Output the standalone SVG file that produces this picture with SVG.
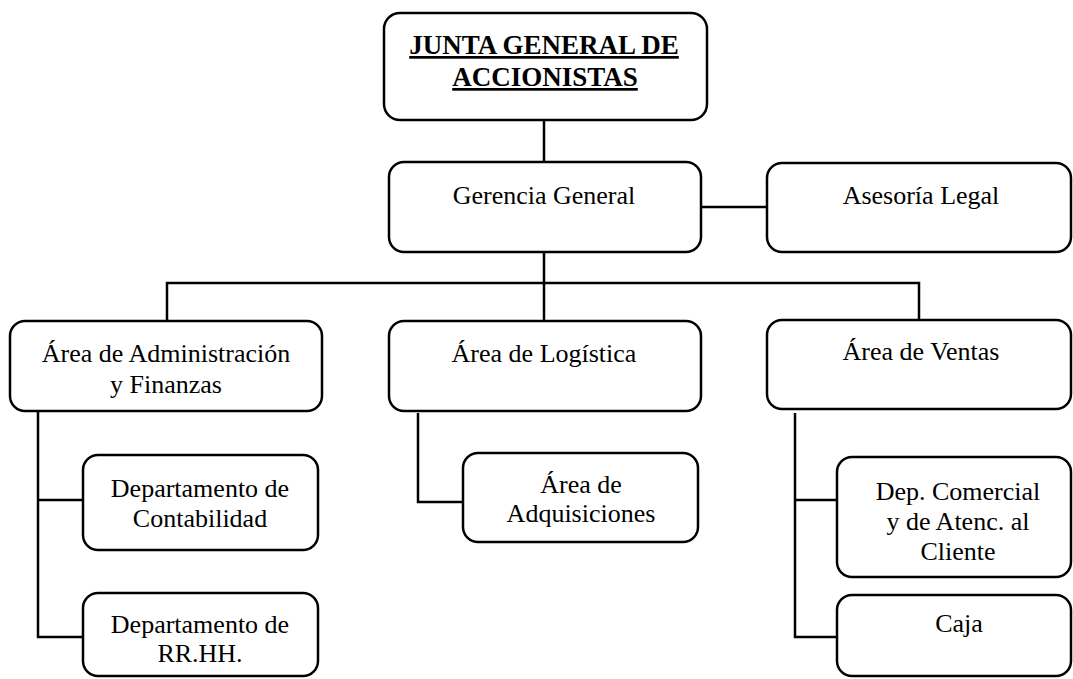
<svg xmlns="http://www.w3.org/2000/svg" width="1073" height="679" viewBox="0 0 1073 679">
<style>
.box{fill:#fff;stroke:#000;stroke-width:2.5}
.t{font-family:"Liberation Serif","Times New Roman",serif;font-size:26px;fill:#000;text-anchor:middle}
.b{font-weight:bold;text-decoration:underline;font-size:27px}
.c{fill:none;stroke:#000;stroke-width:2.5}
</style>
<rect width="1073" height="679" fill="#fff"/>
<g id="connectors">
<path class="c" d="M544 120V162"/>
<path class="c" d="M701 207H767"/>
<path class="c" d="M544 252V283"/>
<path class="c" d="M167 321V283H919V321"/>
<path class="c" d="M544 283V321"/>
<path class="c" d="M38 411V637H83"/>
<path class="c" d="M38 500H83"/>
<path class="c" d="M418 413V502H463"/>
<path class="c" d="M795 413V637H837"/>
<path class="c" d="M795 500H837"/>
</g>
<g id="junta">
<rect class="box" x="384" y="13" width="323" height="107" rx="16"/>
<text class="t b" x="544" y="54">JUNTA GENERAL DE</text>
<text class="t b" x="545" y="86">ACCIONISTAS</text>
</g>
<g id="gerencia">
<rect class="box" x="389" y="162" width="312" height="90" rx="15"/>
<text class="t" x="544" y="204">Gerencia General</text>
</g>
<g id="asesoria">
<rect class="box" x="767" y="163" width="304" height="89" rx="15"/>
<text class="t" x="921" y="204">Asesoría Legal</text>
</g>
<g id="admin">
<rect class="box" x="10" y="321" width="312" height="90" rx="15"/>
<text class="t" x="166" y="362">Área de Administración</text>
<text class="t" x="166" y="393">y Finanzas</text>
</g>
<g id="logistica">
<rect class="box" x="389" y="321" width="312" height="90" rx="15"/>
<text class="t" x="544" y="362">Área de Logística</text>
</g>
<g id="ventas">
<rect class="box" x="767" y="320" width="304" height="89" rx="15"/>
<text class="t" x="921" y="360">Área de Ventas</text>
</g>
<g id="contabilidad">
<rect class="box" x="83" y="455" width="235" height="95" rx="15"/>
<text class="t" x="200" y="497">Departamento de</text>
<text class="t" x="200" y="527">Contabilidad</text>
</g>
<g id="rrhh">
<rect class="box" x="83" y="593" width="235" height="83" rx="15"/>
<text class="t" x="200" y="633">Departamento de</text>
<text class="t" x="200" y="662">RR.HH.</text>
</g>
<g id="adquisiciones">
<rect class="box" x="463" y="453" width="235" height="89" rx="15"/>
<text class="t" x="581" y="493">Área de</text>
<text class="t" x="581" y="522">Adquisiciones</text>
</g>
<g id="comercial">
<rect class="box" x="837" y="457" width="234" height="120" rx="15"/>
<text class="t" x="958" y="500">Dep. Comercial</text>
<text class="t" x="958" y="530">y de Atenc. al</text>
<text class="t" x="958" y="560">Cliente</text>
</g>
<g id="caja">
<rect class="box" x="837" y="595" width="234" height="81" rx="15"/>
<text class="t" x="959" y="632">Caja</text>
</g>
</svg>
